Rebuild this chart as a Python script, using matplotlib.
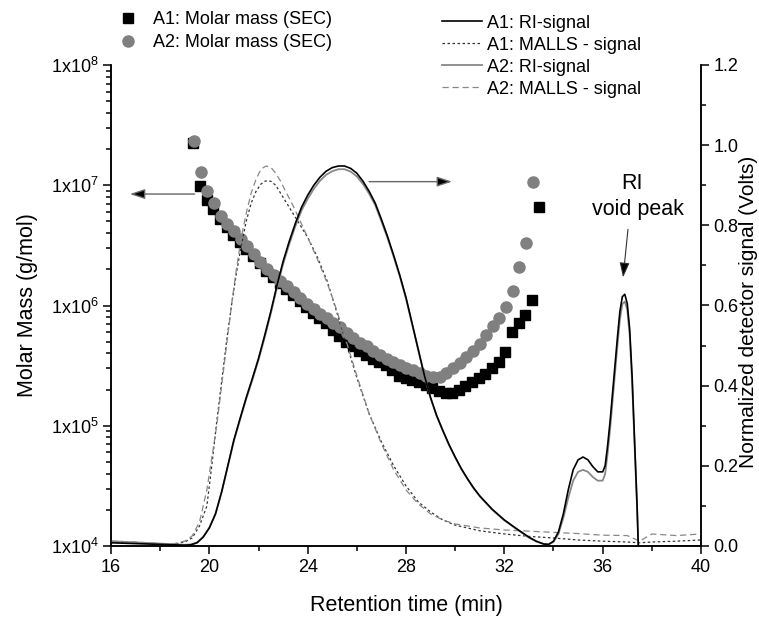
import matplotlib
matplotlib.use("Agg")
import matplotlib.pyplot as plt
from matplotlib.ticker import FixedLocator, FixedFormatter, LogLocator, MultipleLocator, NullFormatter, FormatStrFormatter
from matplotlib.lines import Line2D

plt.rcParams['font.family'] = ['Liberation Sans', 'DejaVu Sans']
plt.rcParams['mathtext.fontset'] = 'custom'
plt.rcParams['mathtext.rm'] = 'Liberation Sans'

# 摩尔质量 (SEC) 散点
a1_time = [19.35, 19.62, 19.89, 20.16, 20.43, 20.70, 20.97, 21.24, 21.51, 21.78,
           22.05, 22.32, 22.59, 22.86, 23.13, 23.40, 23.67, 23.94, 24.21, 24.48,
           24.75, 25.02, 25.29, 25.56, 25.83, 26.10, 26.37, 26.64, 26.91, 27.18,
           27.45, 27.72, 27.99, 28.26, 28.53, 28.80, 29.07, 29.34, 29.61, 29.88,
           30.15, 30.42, 30.69, 30.96, 31.23, 31.50, 31.77, 32.04, 32.31, 32.58,
           32.85, 33.12, 33.39]
a1_mass = [2.24e7, 9.8e6, 7.6e6, 6.3e6, 5.25e6, 4.47e6, 3.89e6, 3.39e6, 2.95e6, 2.57e6,
           2.24e6, 1.95e6, 1.74e6, 1.55e6, 1.38e6, 1.23e6, 1.10e6, 9.8e5, 8.7e5, 7.9e5,
           7.1e5, 6.3e5, 5.6e5, 5.0e5, 4.6e5, 4.2e5, 3.9e5, 3.6e5, 3.4e5, 3.2e5,
           2.9e5, 2.6e5, 2.5e5, 2.4e5, 2.3e5, 2.2e5, 2.05e5, 1.95e5, 1.86e5, 1.86e5,
           2.0e5, 2.14e5, 2.3e5, 2.5e5, 2.7e5, 3.0e5, 3.4e5, 4.1e5, 6.0e5, 7.2e5,
           8.3e5, 1.12e6, 6.6e6]

a2_time = [19.38, 19.65, 19.92, 20.19, 20.46, 20.73, 21.00, 21.27, 21.54, 21.81,
           22.08, 22.35, 22.62, 22.89, 23.16, 23.43, 23.70, 23.97, 24.24, 24.51,
           24.78, 25.05, 25.32, 25.59, 25.86, 26.13, 26.40, 26.67, 26.94, 27.21,
           27.48, 27.75, 28.02, 28.29, 28.56, 28.83, 29.10, 29.37, 29.64, 29.91,
           30.18, 30.45, 30.72, 30.99, 31.26, 31.53, 31.80, 32.07, 32.34, 32.61,
           32.88, 33.15]
a2_mass = [2.34e7, 1.29e7, 8.9e6, 7.1e6, 5.6e6, 4.8e6, 4.2e6, 3.6e6, 3.1e6, 2.7e6,
           2.3e6, 2.0e6, 1.8e6, 1.6e6, 1.45e6, 1.29e6, 1.15e6, 1.02e6, 9.3e5, 8.5e5,
           7.8e5, 7.2e5, 6.6e5, 5.9e5, 5.4e5, 4.9e5, 4.6e5, 4.2e5, 3.9e5, 3.6e5,
           3.4e5, 3.2e5, 3.0e5, 2.9e5, 2.75e5, 2.6e5, 2.55e5, 2.55e5, 2.75e5, 3.0e5,
           3.3e5, 3.7e5, 4.2e5, 4.8e5, 5.7e5, 6.8e5, 7.9e5, 9.8e5, 1.32e6, 2.1e6,
           3.3e6, 1.07e7]

# RI 信号
ri_time = [16, 17, 18, 19,
           19.25, 19.5, 19.75, 20, 20.25, 20.5, 20.75, 21, 21.25, 21.5,
           21.75, 22, 22.25, 22.5, 22.75, 23, 23.25, 23.5, 23.75, 24,
           24.25, 24.5, 24.75, 25, 25.25, 25.5, 25.75, 26, 26.25, 26.5,
           26.75, 27, 27.25, 27.5, 27.75, 28, 28.25, 28.5, 28.75, 29,
           29.25, 29.5, 29.75, 30, 30.25, 30.5, 30.75, 31,
           31.5, 32, 32.5, 33, 33.3, 33.6, 33.8,
           34, 34.2, 34.4, 34.6, 34.8, 35, 35.2, 35.4, 35.6, 35.8, 36,
           36.1, 36.2, 36.3, 36.4, 36.5, 36.6, 36.7, 36.8, 36.9, 37, 37.1, 37.2, 37.3, 37.4,
           37.45, 37.5, 38, 39, 40]
ri_a1 = [0.008, 0.006, 0.004, 0.002,
         0.003, 0.008, 0.022, 0.045, 0.08, 0.135, 0.2, 0.265, 0.318, 0.37,
         0.418, 0.468, 0.525, 0.585, 0.65, 0.71, 0.76, 0.805, 0.845, 0.875,
         0.9, 0.92, 0.935, 0.944, 0.948, 0.948, 0.942, 0.93, 0.91, 0.885,
         0.855, 0.815, 0.772, 0.725, 0.675, 0.62, 0.555, 0.49, 0.425, 0.37,
         0.325, 0.288, 0.253, 0.222, 0.193, 0.168, 0.145, 0.125,
         0.092, 0.065, 0.043, 0.022, 0.012, 0.005, 0.004,
         0.012, 0.035, 0.08, 0.14, 0.19, 0.215, 0.222, 0.215, 0.198, 0.185, 0.185,
         0.2, 0.25, 0.31, 0.38, 0.45, 0.52, 0.585, 0.622, 0.628, 0.605, 0.54, 0.42, 0.26, 0.1,
         0.0, -0.01, 0.0, 0.0, 0.0]
ri_a2 = [0.012, 0.009, 0.006, 0.003,
         0.004, 0.009, 0.023, 0.046, 0.08, 0.134, 0.198, 0.262, 0.315, 0.367,
         0.414, 0.464, 0.52, 0.58, 0.644, 0.703, 0.753, 0.798, 0.837, 0.866,
         0.891, 0.911, 0.926, 0.935, 0.94, 0.94, 0.934, 0.922, 0.903, 0.879,
         0.85, 0.81, 0.768, 0.721, 0.672, 0.617, 0.553, 0.488, 0.424, 0.369,
         0.324, 0.287, 0.252, 0.221, 0.192, 0.167, 0.144, 0.124,
         0.091, 0.064, 0.042, 0.021, 0.011, 0.005, 0.004,
         0.01, 0.03, 0.07, 0.12, 0.163, 0.185, 0.19, 0.185, 0.172, 0.163, 0.163,
         0.18, 0.23, 0.29, 0.36, 0.43, 0.5, 0.565, 0.603, 0.61, 0.59, 0.525, 0.405, 0.25, 0.095,
         0.0, -0.01, 0.0, 0.0, 0.0]

# MALLS 信号
malls_time = [16, 17, 18, 18.5, 19, 19.3, 19.6, 19.9, 20.1, 20.3,
              20.5, 20.7, 20.9, 21.1, 21.3, 21.5, 21.7, 21.9, 22.1, 22.3,
              22.5, 22.7, 22.9, 23.1, 23.4, 23.7, 24.0, 24.4, 24.8, 25.2,
              25.6, 26.0, 26.5, 27.0, 27.5, 28, 28.5, 29, 29.5, 30,
              31, 32, 33, 34, 35, 36, 37, 37.5, 38, 39, 40]
malls_a1 = [0.01, 0.008, 0.005, 0.004, 0.01, 0.02, 0.05, 0.10, 0.20, 0.31,
            0.41, 0.51, 0.60, 0.68, 0.75, 0.81, 0.855, 0.885, 0.903, 0.911,
            0.91, 0.90, 0.88, 0.86, 0.83, 0.80, 0.77, 0.72, 0.66, 0.58,
            0.50, 0.42, 0.33, 0.26, 0.20, 0.15, 0.11, 0.085, 0.065, 0.052,
            0.038, 0.03, 0.024, 0.02, 0.015, 0.012, 0.01, 0.008, 0.01, 0.012, 0.015]
malls_a2 = [0.012, 0.01, 0.006, 0.005, 0.012, 0.025, 0.06, 0.14, 0.22, 0.30,
            0.40, 0.50, 0.60, 0.69, 0.77, 0.83, 0.88, 0.915, 0.94, 0.948,
            0.945, 0.93, 0.91, 0.885, 0.85, 0.81, 0.77, 0.715, 0.655, 0.585,
            0.505, 0.425, 0.33, 0.255, 0.19, 0.14, 0.105, 0.08, 0.065, 0.055,
            0.045, 0.04, 0.037, 0.034, 0.031, 0.027, 0.026, 0.012, 0.03, 0.026, 0.03]

fig = plt.figure(figsize=(7.59, 6.17), dpi=100)
ax = fig.add_axes([111 / 759, 1 - 546 / 617, 590 / 759, 481 / 617])
ax2 = ax.twinx()

ax.plot(a1_time, a1_mass, 's', color='black', markersize=7.2, linestyle='none')
ax.plot(a2_time, a2_mass, 'o', color='#808080', markersize=8.0, linestyle='none')

ax2.plot(malls_time, malls_a1, color='#333333', lw=0.9, dashes=(2, 2))
ax2.plot(malls_time, malls_a2, color='#888888', lw=0.9, dashes=(5, 3))
ax2.plot(ri_time, ri_a2, color='#888888', lw=1.3)
ax2.plot(ri_time, ri_a1, color='black', lw=1.2)

# 坐标轴
ax.set_xlim(16, 40)
ax.set_yscale('log')
ax.set_ylim(1e4, 1e8)
ax.yaxis.set_major_locator(FixedLocator([1e4, 1e5, 1e6, 1e7, 1e8]))
ax.yaxis.set_major_formatter(FixedFormatter([r'1x10$^{4}$', r'1x10$^{5}$', r'1x10$^{6}$',
                                             r'1x10$^{7}$', r'1x10$^{8}$']))
ax.yaxis.set_minor_locator(LogLocator(base=10, subs=range(2, 10)))
ax.yaxis.set_minor_formatter(NullFormatter())
ax.xaxis.set_major_locator(MultipleLocator(4))
ax.xaxis.set_minor_locator(MultipleLocator(2))

ax2.set_ylim(0, 1.2)
ax2.yaxis.set_major_locator(MultipleLocator(0.2))
ax2.yaxis.set_minor_locator(MultipleLocator(0.1))
ax2.yaxis.set_major_formatter(FormatStrFormatter('%.1f'))

for a in (ax, ax2):
    a.spines['top'].set_visible(False)
    for s in a.spines.values():
        s.set_linewidth(1.1)
ax.tick_params(which='major', direction='out', length=6, width=1.1, labelsize=13, pad=3)
ax.tick_params(which='minor', direction='out', length=3.5, width=1.1)
ax2.tick_params(which='major', direction='out', length=6, width=1.1, labelsize=13, pad=3)
ax2.tick_params(which='minor', direction='out', length=3.5, width=1.1)

fig.text(27 / 759, 1 - 305 / 617, 'Molar Mass (g/mol)', rotation=90, ha='center', va='center', fontsize=15.5)
fig.text(749 / 759, 1 - 312 / 617, 'Normalized detector signal (Volts)', rotation=90,
         ha='center', va='center', fontsize=15)
fig.text(406 / 759, 1 - 605 / 617, 'Retention time (min)', ha='center', va='center', fontsize=15.5)

# 箭头和标注
ax.annotate('', xy=(16.77, 8.45e6), xytext=(19.4, 8.45e6),
            arrowprops=dict(arrowstyle='-|>,head_length=0.9,head_width=0.3', ec='#666666', fc='black',
                            lw=1.0, mutation_scale=10, shrinkA=0, shrinkB=0))
ax2.annotate('', xy=(29.87, 0.909), xytext=(26.5, 0.909),
             arrowprops=dict(arrowstyle='-|>,head_length=0.9,head_width=0.3', ec='#666666', fc='black',
                             lw=1.0, mutation_scale=10, shrinkA=0, shrinkB=0))
ax2.annotate('', xy=(36.83, 0.67), xytext=(37.03, 0.79),
             arrowprops=dict(arrowstyle='-|>,head_length=0.9,head_width=0.3', ec='#333333', fc='black',
                             lw=0.8, mutation_scale=10, shrinkA=0, shrinkB=0))
ax2.text(37.2, 0.905, 'RI', ha='center', va='center', fontsize=15.5)
ax2.text(37.44, 0.84, 'void peak', ha='center', va='center', fontsize=15.5)

# 图例
h1 = [Line2D([], [], marker='s', color='black', markersize=7.2, linestyle='none'),
      Line2D([], [], marker='o', color='#808080', markersize=8.0, linestyle='none')]
fig.legend(h1, ['A1: Molar mass (SEC)', 'A2: Molar mass (SEC)'], loc='upper left',
           bbox_to_anchor=(119 / 759, 1 - 11.5 / 617), frameon=False, fontsize=13,
           handlelength=1.0, handletextpad=0.89, labelspacing=0.3, borderpad=0, borderaxespad=0)
h2 = [Line2D([], [], color='black', lw=1.2),
      Line2D([], [], color='#333333', lw=0.9, dashes=(2, 2)),
      Line2D([], [], color='#888888', lw=1.3),
      Line2D([], [], color='#888888', lw=0.9, dashes=(5, 3))]
fig.legend(h2, ['A1: RI-signal', 'A1: MALLS - signal', 'A2: RI-signal', 'A2: MALLS - signal'],
           loc='upper left', bbox_to_anchor=(441.5 / 759, 1 - 14.5 / 617), frameon=False, fontsize=13,
           handlelength=2.22, handletextpad=0.3, labelspacing=0.28, borderpad=0, borderaxespad=0)

fig.savefig('out.png', dpi=100)
